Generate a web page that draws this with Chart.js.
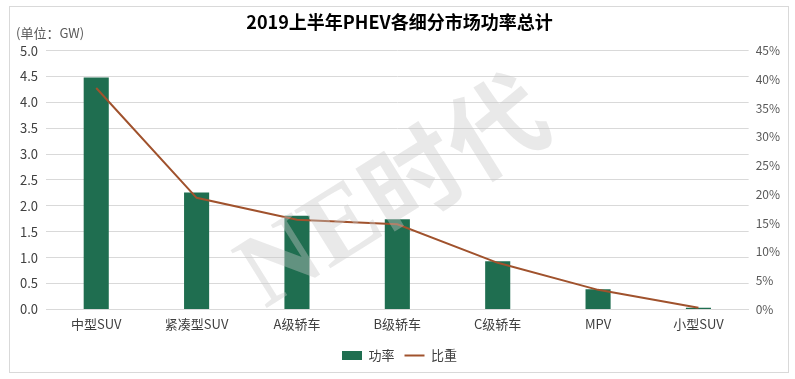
<!DOCTYPE html>
<html>
<head>
<meta charset="utf-8">
<script src="https://cdn.jsdelivr.net/npm/chart.js@4/dist/chart.umd.min.js"></script>
<style>
  html, body { margin: 0; padding: 0; background: #fff; }
  #box { position: absolute; left: 9px; top: 6px; width: 778px; height: 365px; border: 1px solid #d9d9d9; }
  #myChart { display: block; }
</style>
</head>
<body>
<div id="box"><canvas id="myChart" width="778" height="365"></canvas></div>
<script>
const categories = ['中型SUV', '紧凑型SUV', 'A级轿车', 'B级轿车', 'C级轿车', 'MPV', '小型SUV'];
const power = [4.48, 2.26, 1.81, 1.74, 0.93, 0.39, 0.03];
const share = [38.5, 19.4, 15.6, 14.8, 8.1, 3.4, 0.3];
const leftTicks = [0, 0.5, 1, 1.5, 2, 2.5, 3, 3.5, 4, 4.5, 5];
const rightTicks = [0, 5, 10, 15, 20, 25, 30, 35, 40, 45];

const FONT = "'Noto Sans CJK SC', 'Microsoft YaHei', sans-serif";

const extras = {
    id: 'extras',
    afterDraw(chart) {
        const c = chart.ctx;
        c.save();
        // unit label
        c.fillStyle = '#595959';
        c.font = '13px ' + FONT;
        c.textBaseline = 'middle';
        c.textAlign = 'left';
        c.fillText('(单位：GW)', 6, 26);
        // watermark
        c.translate(382, 184);
        c.rotate(-32 * Math.PI / 180);
        c.fillStyle = 'rgba(200,200,200,0.4)';
        c.font = 'bold 104px "Liberation Serif", serif';
        const w1 = c.measureText('NE').width;
        c.font = 'bold 98px ' + FONT;
        const w2 = c.measureText('时代').width;
        const start = -(w1 + w2) / 2;
        c.textAlign = 'left';
        c.font = 'bold 104px "Liberation Serif", serif';
        c.fillText('NE', start, 6);
        c.font = 'bold 98px ' + FONT;
        c.fillText('时代', start + w1, 0);
        c.restore();
    }
};

const ctx = document.getElementById('myChart').getContext('2d');
const myChart = new Chart(ctx, {
    type: 'bar',
    data: {
        labels: categories,
        datasets: [{
            label: '功率',
            data: power,
            backgroundColor: '#1f6e50',
            borderWidth: 0,
            barPercentage: 0.5,
            categoryPercentage: 0.5,
            yAxisID: 'y',
            pointStyle: 'rect',
            order: 2
        },
        {
            type: 'line',
            label: '比重',
            data: share,
            borderColor: '#a0522d',
            backgroundColor: '#a0522d',
            borderWidth: 2,
            pointRadius: 0,
            pointStyle: 'line',
            tension: 0,
            yAxisID: 'y1',
            order: 1
        }]
    },
    options: {
        responsive: false,
        animation: false,
        layout: { padding: { left: 2, right: 1, top: 0, bottom: 0 } },
        plugins: {
            title: {
                display: true,
                text: '2019上半年PHEV各细分市场功率总计',
                color: '#000',
                font: { family: FONT, size: 18, weight: 'bold' },
                padding: { top: 4, bottom: 18 }
            },
            legend: {
                position: 'bottom',
                labels: {
                    usePointStyle: true,
                    pointStyleWidth: 20,
                    boxWidth: 20,
                    boxHeight: 9,
                    padding: 10,
                    color: '#404040',
                    font: { family: FONT, size: 13 },
                    sort: (a, b) => a.datasetIndex - b.datasetIndex
                }
            },
            tooltip: { enabled: false }
        },
        scales: {
            x: {
                grid: { display: false, drawTicks: false },
                border: { color: '#d9d9d9' },
                ticks: { color: '#404040', font: { family: FONT, size: 13 }, padding: 7 }
            },
            y: {
                position: 'left',
                min: 0,
                max: 5,
                afterBuildTicks: (axis) => { axis.ticks = leftTicks.map(v => ({ value: v })); },
                grid: { color: '#d9d9d9', drawTicks: false },
                border: { display: false },
                ticks: {
                    color: '#404040',
                    font: { family: FONT, size: 13 },
                    padding: 8,
                    callback: (v) => v.toFixed(1)
                }
            },
            y1: {
                position: 'right',
                min: 0,
                max: 45,
                afterBuildTicks: (axis) => { axis.ticks = rightTicks.map(v => ({ value: v })); },
                grid: { display: false, drawTicks: false },
                border: { display: false },
                ticks: {
                    color: '#595959',
                    font: { family: FONT, size: 12 },
                    padding: 7,
                    callback: (v) => v + '%'
                }
            }
        }
    },
    plugins: [extras]
});
</script>
</body>
</html>
